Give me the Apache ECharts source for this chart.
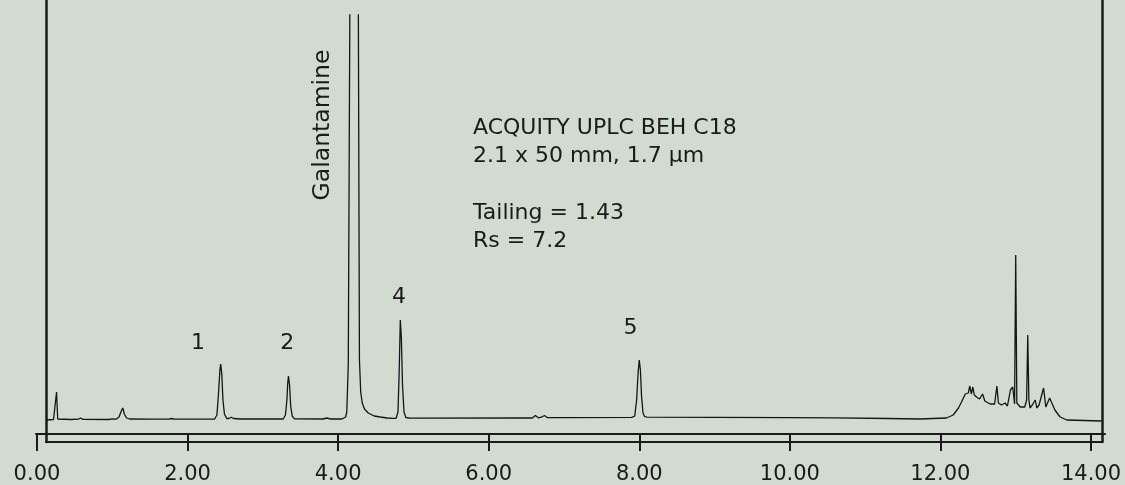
<!DOCTYPE html>
<html>
<head>
<meta charset="utf-8">
<script src="https://cdn.jsdelivr.net/npm/echarts@6/dist/echarts.min.js"></script>
<style>
  html, body { margin: 0; padding: 0; background: #d1dbd0; }
  #main { width: 1125px; height: 485px; }
</style>
</head>
<body>
<div id="main"></div>
<script>
// retention time (min) / detector response (arbitrary units)
var tickValues = [0, 2, 4, 6, 8, 10, 12, 14];

var startTrace = [[0.12,0],[0.22,0.5],[0.245,1],[0.26,28],[0.275,1],[0.30,0.5],[0.45,0.5],[0.55,0.8],[0.58,2],[0.61,0.6],
  [0.95,0.5],[1.00,1.2],[1.02,2],[1.05,0.8],[1.09,3],[1.12,9],[1.14,12],[1.16,6],[1.19,2],[1.23,1],
  [1.50,0.8],[1.75,0.8],[1.79,1.5],[1.83,0.8],[2.30,0.8]];
var peak1 = [[2.36,1],[2.39,5],[2.41,25],[2.43,50],[2.44,56],[2.455,46],[2.47,20],[2.49,6],[2.52,1.5],[2.55,1.5],
  [2.58,2.8],[2.61,1.5],[2.70,1],[3.20,1]];
var peak2 = [[3.27,1],[3.30,5],[3.32,20],[3.33,36],[3.34,44],[3.355,35],[3.37,14],[3.39,4],[3.42,1.2],[3.80,1],[3.85,2],[3.90,1]];
var galantamine = [[4.05,1],[4.10,3],[4.115,8],[4.135,56],[4.155,400],[4.18,900],[4.21,1000],[4.24,900],[4.265,500],
  [4.283,60],[4.30,28],[4.32,17],[4.35,11],[4.40,7],[4.48,4],[4.56,3],[4.65,2],[4.74,1.7]];
var peak4 = [[4.77,1.7],[4.795,8],[4.81,45],[4.826,100],[4.84,82],[4.855,35],[4.875,8],[4.90,2.5],[4.95,1.8],[6.40,2]];
var midTrace = [[6.58,2],[6.62,4.5],[6.66,2.2],[6.70,2.8],[6.74,4.5],[6.78,2.3],[7.00,2.3],[7.90,2.6]];
var peak5 = [[7.94,4],[7.965,20],[7.985,48],[8.00,60],[8.015,50],[8.03,24],[8.05,7],[8.07,3.5],[8.10,2.8],
  [9.00,2.6],[10.00,2.4],[10.60,2.2],[11.30,1.5],[11.73,1]];
var washTrace = [[12.08,2],[12.17,5],[12.24,12],[12.28,18],[12.33,26],[12.37,27],[12.39,34],[12.41,26],[12.43,33],
  [12.45,25],[12.48,23],[12.52,21],[12.56,26],[12.59,19],[12.66,16],[12.72,16],[12.75,34],[12.77,17],[12.81,15],
  [12.86,17],[12.89,14],[12.93,30],[12.96,33],[12.985,16],[13.00,165],[13.015,17],[13.06,13],[13.12,13],[13.145,20],
  [13.16,85],[13.175,20],[13.19,12],[13.22,15],[13.26,20],[13.28,12],[13.31,15],[13.37,32],[13.40,13],[13.45,22],
  [13.48,17],[13.52,10],[13.59,3],[13.68,0],[14.14,-1]];

var peakNames = ['1', '2', '4', '5', 'Galantamine'];
var peakLabelTimes = [2.14, 3.325, 4.81, 7.885, 3.80];
var peakLabelHeights = [77, 77, 123, 92, 295];

var columnInfo = ['ACQUITY UPLC BEH C18', '2.1 x 50 mm, 1.7 µm', '', 'Tailing = 1.43', 'Rs = 7.2'];

var trace = [].concat(startTrace, peak1, peak2, galantamine, peak4, midTrace, peak5, washTrace);

var labelData = peakNames.map(function (n, i) {
  var big = n === 'Galantamine';
  return {
    name: n,
    value: [peakLabelTimes[i], peakLabelHeights[i]],
    label: { rotate: big ? 90 : 0, fontSize: big ? 23.5 : 22 }
  };
});

var font = 'DejaVu Sans';
var ink = '#1a1a1a';

var myChart = echarts.init(document.getElementById('main'));

var option = {
  backgroundColor: '#d1dbd0',
  animation: false,
  grid: [
    { left: 36, right: 20, top: 15, bottom: 51, outerBoundsMode: 'none', containLabel: false },
    { left: 46, right: 23, top: -10, bottom: 43, outerBoundsMode: 'none', containLabel: false }
  ],
  xAxis: [
    {
      type: 'value', gridIndex: 0, min: -0.013, max: 14.186,
      splitLine: { show: false },
      axisLine: { show: true, onZero: false, lineStyle: { color: ink, width: 2 } },
      axisTick: { show: true, customValues: tickValues, length: 17, inside: false, lineStyle: { color: ink, width: 2 } },
      axisLabel: {
        customValues: tickValues, margin: 30, color: ink, fontFamily: font, fontSize: 21, lineHeight: 22,
        formatter: function (v) { return v.toFixed(2); }
      }
    },
    {
      type: 'value', gridIndex: 1, min: 0, max: 1,
      splitLine: { show: false }, axisTick: { show: false }, axisLabel: { show: false },
      axisLine: { show: true, onZero: false, lineStyle: { color: ink, width: 2 } }
    }
  ],
  yAxis: [
    { type: 'value', gridIndex: 0, min: -14, max: 405, show: false },
    {
      type: 'value', gridIndex: 1, position: 'left', min: 0, max: 1,
      splitLine: { show: false }, axisTick: { show: false }, axisLabel: { show: false },
      axisLine: { show: true, onZero: false, lineStyle: { color: ink, width: 2.5 } }
    },
    {
      type: 'value', gridIndex: 1, position: 'right', min: 0, max: 1,
      splitLine: { show: false }, axisTick: { show: false }, axisLabel: { show: false },
      axisLine: { show: true, onZero: false, lineStyle: { color: ink, width: 2.5 } }
    }
  ],
  series: [
    {
      name: 'UV', type: 'line', xAxisIndex: 0, yAxisIndex: 0,
      data: trace, showSymbol: false, clip: true,
      lineStyle: { color: '#151515', width: 1.3 }
    },
    {
      name: 'labels', type: 'scatter', xAxisIndex: 0, yAxisIndex: 0,
      data: labelData, symbolSize: 0, silent: true,
      itemStyle: { opacity: 1 },
      label: {
        show: true, position: 'inside', formatter: '{b}', opacity: 1,
        color: ink, textBorderWidth: 0, fontFamily: font, fontSize: 22
      }
    }
  ],
  graphic: [
    {
      type: 'text', left: 473, top: 114,
      style: {
        text: columnInfo.join('\n'), fill: ink, font: '22px "DejaVu Sans"', lineHeight: 28.3
      }
    }
  ]
};

myChart.setOption(option);
</script>
</body>
</html>
